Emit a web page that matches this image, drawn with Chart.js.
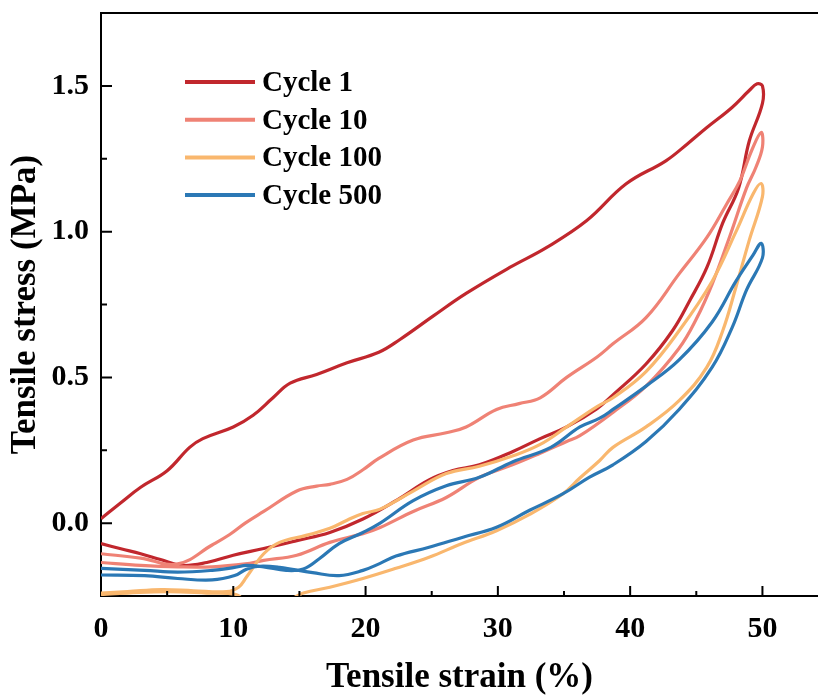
<!DOCTYPE html>
<html>
<head>
<meta charset="utf-8">
<script src="https://cdn.jsdelivr.net/npm/chart.js@4.4.0/dist/chart.umd.min.js"></script>
<style>
  body { margin: 0; background: #fff; }
  canvas { display: block; }
</style>
</head>
<body>
<canvas id="loopChart" width="818" height="695"></canvas>
<script>
// each loop: loading from 0 up to 50 % strain, then unloading back to 0
var cycle1Strain = [0, 1.5, 3, 5, 6.7, 7.7, 10, 11.5, 13, 14.3, 16.3, 18.6, 21, 22.6, 25.1, 27.6, 30.9, 33.7, 36.7, 39.7, 42.7, 44.3, 45.8, 47.7, 49, 49.6, 50,
                    50, 49, 48.2, 47, 45.8, 44.5, 43.2, 41.2, 38.7, 37.5, 35.2, 33.2, 31.1, 28.6, 26.6, 24.8, 22.4, 19.8, 17.3, 14.8, 12.3, 10, 8, 6.1, 4.5, 3, 1.5, 0];
var cycle1Stress = [0.015, 0.07, 0.123, 0.18, 0.26, 0.29, 0.33, 0.37, 0.43, 0.48, 0.51, 0.55, 0.586, 0.63, 0.71, 0.788, 0.877, 0.946, 1.037, 1.164, 1.243, 1.3, 1.357, 1.426, 1.484, 1.507, 1.5,
                    1.44, 1.31, 1.15, 1.03, 0.877, 0.763, 0.66, 0.546, 0.44, 0.393, 0.33, 0.29, 0.245, 0.2, 0.18, 0.148, 0.08, 0.014, -0.032, -0.06, -0.087, -0.11, -0.135, -0.145, -0.125, -0.105, -0.088, -0.07];

var cycle10Strain = [0, 3, 5.8, 8.4, 9.7, 10.9, 12.3, 14.8, 16.3, 17.3, 18.6, 19.8, 21, 23.6, 26.1, 27.6, 29.9, 31.6, 33.2, 35.2, 37.5, 38.7, 41.2, 43.7, 45.8, 47.3, 48.3, 49.2, 49.9,
                     50, 49.5, 48.8, 47.5, 46.2, 45, 43.7, 41.2, 38.7, 36.2, 35.2, 33.2, 31.1, 28.6, 26.1, 23.6, 21.1, 19.8, 17.3, 14.8, 12.3, 10.9, 8.4, 5.8, 3, 0];
var cycle10Stress = [-0.105, -0.12, -0.14, -0.075, -0.04, 0, 0.04, 0.11, 0.127, 0.133, 0.15, 0.183, 0.222, 0.285, 0.31, 0.33, 0.39, 0.41, 0.43, 0.5, 0.57, 0.615, 0.705, 0.855, 0.98, 1.095, 1.175, 1.28, 1.34,
                     1.29, 1.22, 1.15, 0.98, 0.82, 0.7, 0.6, 0.47, 0.38, 0.3, 0.28, 0.24, 0.2, 0.157, 0.088, 0.04, -0.015, -0.036, -0.066, -0.11, -0.128, -0.14, -0.15, -0.15, -0.145, -0.135];

var cycle100Strain = [0, 2, 4.6, 7, 9.5, 10.4, 11, 12.3, 13.5, 15.5, 17.3, 18.6, 19.8, 21.1, 23.6, 26.1, 28.6, 31.1, 33.2, 35.2, 37.5, 38.7, 41.2, 43.7, 46.2, 48, 49.3, 49.9,
                      50, 49, 48, 47, 45.8, 43.7, 41.2, 38.7, 37.7, 36.2, 34.9, 32.4, 29.9, 27.3, 24.8, 22.3, 19.8, 17.3, 15.3, 14, 12.5, 11, 10.2, 8, 5, 2, 0];
var cycle100Stress = [-0.24, -0.235, -0.228, -0.232, -0.235, -0.22, -0.185, -0.105, -0.066, -0.042, -0.018, 0.01, 0.033, 0.048, 0.11, 0.17, 0.195, 0.23, 0.27, 0.33, 0.4, 0.43, 0.52, 0.66, 0.83, 1.0, 1.13, 1.165,
                      1.12, 0.97, 0.81, 0.66, 0.535, 0.42, 0.33, 0.26, 0.215, 0.155, 0.1, 0.03, -0.026, -0.07, -0.117, -0.155, -0.19, -0.22, -0.24, -0.27, -0.29, -0.27, -0.245, -0.24, -0.235, -0.24, -0.245];

var cycle500Strain = [0, 3.3, 5.8, 8.4, 10.1, 11, 12.3, 14, 15.3, 16.5, 18, 19.8, 21.1, 23.6, 26.1, 28.6, 31.1, 34, 36.2, 37.7, 38.7, 41.2, 43.7, 46.2, 48, 49.3, 49.9,
                      50, 48.8, 47.7, 46.2, 43.7, 41.2, 38.7, 36.9, 34.9, 32.4, 29.9, 27.3, 24.8, 22.3, 21.1, 19.8, 18, 16, 13.5, 12, 11, 10.1, 8.4, 5.8, 3.3, 0];
var cycle500Stress = [-0.155, -0.162, -0.168, -0.162, -0.152, -0.145, -0.15, -0.162, -0.157, -0.122, -0.07, -0.032, 0, 0.077, 0.128, 0.157, 0.21, 0.26, 0.33, 0.36, 0.39, 0.47, 0.56, 0.69, 0.83, 0.92, 0.96,
                      0.91, 0.8, 0.67, 0.535, 0.39, 0.28, 0.2, 0.157, 0.1, 0.044, -0.014, -0.049, -0.083, -0.113, -0.138, -0.162, -0.18, -0.17, -0.152, -0.148, -0.158, -0.18, -0.195, -0.19, -0.18, -0.178];

var cycleNames = ['Cycle 1', 'Cycle 10', 'Cycle 100', 'Cycle 500'];
var cycleColors = ['#c1272d', '#ef8275', '#f9b76e', '#2b78b5'];
var strainLabels = [0, 10, 20, 30, 40, 50];
var stressLabels = [0, 0.5, 1.0, 1.5];

var serif = 'Liberation Serif, Times New Roman, serif';

function toPoints(xs, ys) {
  return xs.map(function (x, i) { return { x: x, y: ys[i] }; });
}

var loops = [
  toPoints(cycle1Strain, cycle1Stress),
  toPoints(cycle10Strain, cycle10Stress),
  toPoints(cycle100Strain, cycle100Stress),
  toPoints(cycle500Strain, cycle500Stress)
];

// top frame line, inward tick marks and the key in the upper left
var frameAndKey = {
  id: 'frameAndKey',
  afterDraw: function (chart) {
    var ctx = chart.ctx, area = chart.chartArea;
    var xs = chart.scales.x, ys = chart.scales.y;
    ctx.save();
    ctx.strokeStyle = '#000';
    ctx.lineWidth = 2;
    ctx.beginPath();
    ctx.moveTo(area.left - 1, area.top);
    ctx.lineTo(area.right, area.top);
    xs.ticks.forEach(function (t) {
      if (t.value <= xs.min) return;
      var px = xs.getPixelForValue(t.value);
      var len = strainLabels.indexOf(t.value) >= 0 ? 10 : 5;
      ctx.moveTo(px, area.bottom);
      ctx.lineTo(px, area.bottom - len);
    });
    ys.ticks.forEach(function (t) {
      if (t.value <= ys.min || t.value >= ys.max) return;
      var py = ys.getPixelForValue(t.value);
      var len = stressLabels.indexOf(t.value) >= 0 ? 11 : 6;
      ctx.moveTo(area.left, py);
      ctx.lineTo(area.left + len, py);
    });
    ctx.stroke();

    ctx.font = 'bold 29px ' + serif;
    ctx.textBaseline = 'middle';
    ctx.textAlign = 'left';
    chart.data.datasets.forEach(function (ds, i) {
      var y = 82 + i * 37.7;
      ctx.strokeStyle = ds.borderColor;
      ctx.lineWidth = 4;
      ctx.beginPath();
      ctx.moveTo(185, y);
      ctx.lineTo(255, y);
      ctx.stroke();
      ctx.fillStyle = '#000';
      ctx.fillText(ds.label, 262, y + 1.5);
    });
    ctx.restore();
  }
};

new Chart(document.getElementById('loopChart'), {
  type: 'scatter',
  data: {
    datasets: loops.map(function (pts, i) {
      return {
        label: cycleNames[i],
        data: pts,
        showLine: true,
        borderColor: cycleColors[i],
        backgroundColor: cycleColors[i],
        borderWidth: 3.2,
        pointRadius: 0,
        tension: 0.4,
        fill: false,
        order: 4 - i
      };
    })
  },
  options: {
    responsive: false,
    animation: false,
    layout: { padding: { top: 13, right: 0, bottom: 0, left: 0 } },
    plugins: {
      legend: { display: false },
      tooltip: { enabled: false }
    },
    scales: {
      x: {
        type: 'linear',
        min: 0,
        max: 54.2,
        afterFit: function (s) { s.height = 99; s.paddingLeft = 0; s.paddingRight = 0; },
        grid: { display: false },
        border: { display: true, color: '#000', width: 2 },
        ticks: {
          stepSize: 5,
          includeBounds: false,
          autoSkip: false,
          maxRotation: 0,
          padding: 7,
          color: '#000',
          font: { family: serif, size: 30, weight: 'bold' },
          callback: function (v) { return strainLabels.indexOf(v) >= 0 ? String(v) : ''; }
        },
        title: {
          display: true,
          text: 'Tensile strain (%)',
          color: '#000',
          font: { family: serif, size: 35, weight: 'bold', lineHeight: 1 },
          padding: { top: 0, bottom: 0 }
        }
      },
      y: {
        type: 'linear',
        min: -0.25,
        max: 1.75,
        afterFit: function (s) { s.width = 101; s.paddingTop = 0; s.paddingBottom = 0; },
        grid: { display: false },
        border: { display: true, color: '#000', width: 2 },
        ticks: {
          stepSize: 0.25,
          autoSkip: false,
          padding: 4,
          color: '#000',
          font: { family: serif, size: 30, weight: 'bold' },
          callback: function (v) { return stressLabels.indexOf(v) >= 0 ? v.toFixed(1) : ''; }
        },
        title: {
          display: true,
          text: 'Tensile stress (MPa)',
          color: '#000',
          font: { family: serif, size: 35, weight: 'bold', lineHeight: 1 },
          padding: { top: 8.5, bottom: 0 }
        }
      }
    }
  },
  plugins: [frameAndKey]
});
</script>
</body>
</html>
